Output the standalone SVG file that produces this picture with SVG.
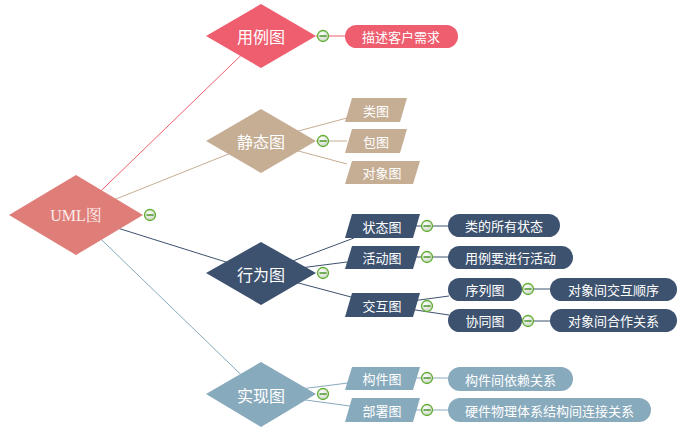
<svg xmlns="http://www.w3.org/2000/svg" width="687" height="434" viewBox="0 0 687 434">
<style>
text{font-family:"Noto Sans CJK SC","Noto Sans",sans-serif;fill:#fff;text-anchor:middle;dominant-baseline:central}
.t13{font-size:13px}
.t16{font-size:16px}
.c{fill:none;stroke-width:1}
.r{stroke:#EE5E6F}.b{stroke:#C6AE95}.n{stroke:#3D526F}.l{stroke:#88AABD}
.rf{fill:#EE5E6F}.bf{fill:#C6AE95}.nf{fill:#3D526F}.lf{fill:#88AABD}
.tc{fill:url(#tgf);stroke:#5FAE2E;stroke-width:1.3}
.tm{stroke:#3F8F1C;stroke-width:1.4}
</style>
<defs>
<radialGradient id="tgf" cx="0.4" cy="0.35" r="0.7"><stop offset="0" stop-color="#ffffff"/><stop offset="1" stop-color="#c9d3c2"/></radialGradient>
<g id="tog"><circle class="tc" cx="0" cy="0" r="5.5"/><line class="tm" x1="-3.5" y1="0" x2="3.5" y2="0"/></g>
</defs>
<g id="connectors">
<line class="c r" x1="76" y1="215" x2="261" y2="36"/>
<line class="c b" x1="76" y1="215" x2="261" y2="141"/>
<line class="c n" x1="76" y1="215" x2="261" y2="273"/>
<line class="c l" x1="76" y1="215" x2="261" y2="394"/>
<line class="c r" x1="316" y1="36" x2="346" y2="36" stroke-width="1.5"/>
<line class="c b" x1="261" y1="141" x2="347" y2="118" stroke-width="1.5"/>
<line class="c b" x1="316" y1="141" x2="347" y2="141" stroke-width="1.5"/>
<line class="c b" x1="261" y1="141" x2="347" y2="164" stroke-width="1.5"/>
<line class="c n" x1="261" y1="273" x2="354" y2="238" stroke-width="1.5"/>
<line class="c n" x1="261" y1="273" x2="347" y2="262" stroke-width="1.5"/>
<line class="c n" x1="261" y1="273" x2="351" y2="297" stroke-width="1.5"/>
<line class="c n" x1="416" y1="226" x2="449" y2="226" stroke-width="1.5"/>
<line class="c n" x1="416" y1="257" x2="449" y2="257" stroke-width="1.5"/>
<line class="c n" x1="382" y1="305" x2="449" y2="296" stroke-width="1.5"/>
<line class="c n" x1="382" y1="305" x2="449" y2="315" stroke-width="1.5"/>
<line class="c n" x1="522" y1="289" x2="551" y2="289" stroke-width="1.5"/>
<line class="c n" x1="522" y1="321" x2="551" y2="321" stroke-width="1.5"/>
<line class="c l" x1="261" y1="394" x2="348" y2="383" stroke-width="1.5"/>
<line class="c l" x1="261" y1="394" x2="350" y2="406" stroke-width="1.5"/>
<line class="c l" x1="416" y1="378" x2="449" y2="378" stroke-width="1.5"/>
<line class="c l" x1="416" y1="410" x2="449" y2="410" stroke-width="1.5"/>
</g>
<g id="uml"><polygon fill="#DF7D78" points="9,215 76,175 143,215 76,255"/><text x="76" y="215" style="font-family:'Liberation Serif','Noto Serif CJK SC','Noto Sans CJK SC',serif;font-size:16px;fill:#FCEDEB">UML图</text></g>
<g id="yongli"><polygon class="rf" points="206,36 261,4 316,36 261,68"/><text class="t16" x="261" y="36">用例图</text></g>
<g id="miaoshu"><rect class="rf" x="345" y="25" width="113" height="23" rx="11.5"/><text class="t13" x="401" y="36.5">描述客户需求</text></g>
<g id="jingtai"><polygon class="bf" points="206,141 261,109 316,141 261,173"/><text class="t16" x="261" y="141">静态图</text></g>
<g id="lei"><polygon class="bf" points="352,98 407,98 400,122 345,122"/><text class="t13" x="376" y="110">类图</text></g>
<g id="bao"><polygon class="bf" points="352,129 407,129 400,153 345,153"/><text class="t13" x="376" y="141">包图</text></g>
<g id="duixiang"><polygon class="bf" points="352,161 420,161 413,184 345,184"/><text class="t13" x="382" y="172.5">对象图</text></g>
<g id="xingwei"><polygon class="nf" points="206,273 261,242 316,273 261,305"/><text class="t16" x="261" y="273.5">行为图</text></g>
<g id="zhuangtai"><polygon class="nf" points="352,214 420,214 413,238 345,238"/><text class="t13" x="382" y="226">状态图</text></g>
<g id="huodong"><polygon class="nf" points="352,246 420,246 413,269 345,269"/><text class="t13" x="382" y="257.5">活动图</text></g>
<g id="jiaohu"><polygon class="nf" points="352,293 420,293 413,317 345,317"/><text class="t13" x="382" y="305">交互图</text></g>
<g id="leisuoyou"><rect class="nf" x="448" y="214" width="112" height="23" rx="11.5"/><text class="t13" x="504" y="225.5">类的所有状态</text></g>
<g id="yonglihuodong"><rect class="nf" x="448" y="246" width="125" height="23" rx="11.5"/><text class="t13" x="510.5" y="257.5">用例要进行活动</text></g>
<g id="xulie"><rect class="nf" x="448" y="278" width="74" height="23" rx="11.5"/><text class="t13" x="485" y="289.5">序列图</text></g>
<g id="xietong"><rect class="nf" x="448" y="309" width="74" height="23" rx="11.5"/><text class="t13" x="485" y="320.5">协同图</text></g>
<g id="jiaohushunxu"><rect class="nf" x="550" y="278" width="127" height="23" rx="11.5"/><text class="t13" x="613.5" y="289.5">对象间交互顺序</text></g>
<g id="hezuo"><rect class="nf" x="550" y="309" width="127" height="23" rx="11.5"/><text class="t13" x="613.5" y="320.5">对象间合作关系</text></g>
<g id="shixian"><polygon class="lf" points="206,394 261,362 316,394 261,427"/><text class="t16" x="261" y="394.5">实现图</text></g>
<g id="goujian"><polygon class="lf" points="352,367 420,367 413,390 345,390"/><text class="t13" x="382" y="378.5">构件图</text></g>
<g id="bushu"><polygon class="lf" points="352,398 420,398 413,422 345,422"/><text class="t13" x="382" y="410">部署图</text></g>
<g id="yilai"><rect class="lf" x="448" y="367" width="125" height="24" rx="12"/><text class="t13" x="510.5" y="379">构件间依赖关系</text></g>
<g id="yingjian"><rect class="lf" x="448" y="398" width="203" height="24" rx="12"/><text class="t13" x="549.5" y="410">硬件物理体系结构间连接关系</text></g>
<g id="toggles">
<use href="#tog" x="150" y="215"/>
<use href="#tog" x="323" y="36"/>
<use href="#tog" x="323" y="141"/>
<use href="#tog" x="323" y="273"/>
<use href="#tog" x="323" y="394"/>
<use href="#tog" x="427" y="226"/>
<use href="#tog" x="427" y="257"/>
<use href="#tog" x="427" y="306"/>
<use href="#tog" x="528" y="289"/>
<use href="#tog" x="528" y="321"/>
<use href="#tog" x="427" y="378"/>
<use href="#tog" x="427" y="410"/>
</g>
</svg>
